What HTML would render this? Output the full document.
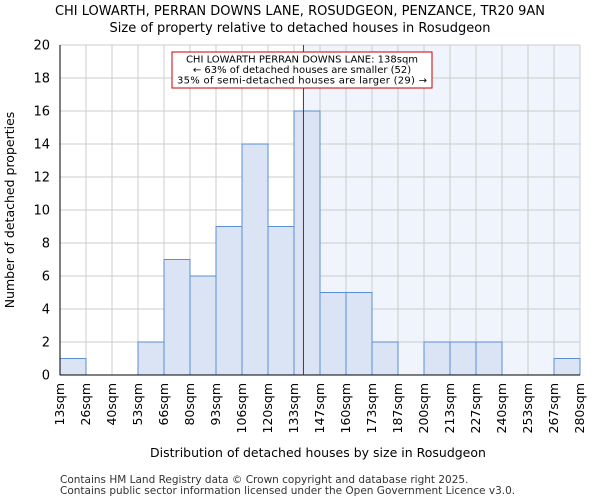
<!DOCTYPE html>
<html><head><style>
body{margin:0;background:#fff;font-family:"DejaVu Sans","Liberation Sans",sans-serif;}
</style></head><body>
<svg id="chart" width="600" height="500" xmlns="http://www.w3.org/2000/svg" font-family="DejaVu Sans, Liberation Sans, sans-serif">
<text x="300" y="15" text-anchor="middle" font-size="13">CHI LOWARTH, PERRAN DOWNS LANE, ROSUDGEON, PENZANCE, TR20 9AN</text>
<text x="300" y="32" text-anchor="middle" font-size="13">Size of property relative to detached houses in Rosudgeon</text>
<g id="plot"></g>
<text x="318" y="457" text-anchor="middle" font-size="12.5">Distribution of detached houses by size in Rosudgeon</text>
<text transform="translate(14,210) rotate(-90)" text-anchor="middle" font-size="12.5">Number of detached properties</text>
<text x="60" y="483" font-size="10.5" fill="#333">Contains HM Land Registry data © Crown copyright and database right 2025.</text>
<text x="60" y="494" font-size="10.5" fill="#333">Contains public sector information licensed under the Open Government Licence v3.0.</text>
</svg>
<script>
const binLabels=["13sqm","26sqm","40sqm","53sqm","66sqm","80sqm","93sqm","106sqm","120sqm","133sqm","147sqm","160sqm","173sqm","187sqm","200sqm","213sqm","227sqm","240sqm","253sqm","267sqm","280sqm"];
const counts=[1,0,0,2,7,6,9,14,9,16,5,5,2,0,2,2,2,0,0,1];
const yTicks=[0,2,4,6,8,10,12,14,16,18,20];
const xMin=13,xMax=280,yMax=20,propertySize=138;
const L=60,R=580,T=45,B=375;
const n=counts.length,bw=(R-L)/n;
const xb=i=>L+i*bw;
const xv=v=>L+(v-xMin)/(xMax-xMin)*(R-L);
const y=v=>B-v/yMax*(B-T);
const NS="http://www.w3.org/2000/svg";
const g=document.getElementById('plot');
function mk(t,a){const e=document.createElementNS(NS,t);for(const k in a)e.setAttribute(k,a[k]);g.appendChild(e);return e;}
const px=xv(propertySize);
let e=mk('rect',{x:px,y:T,width:R-px,height:B-T,fill:'#f0f4fc'});


for(const t of yTicks){e=mk('line',{x1:L,x2:R,y1:y(t),y2:y(t),stroke:'#cccccc','stroke-width':1});

}
for(let i=0;i<=n;i++){e=mk('line',{x1:xb(i),x2:xb(i),y1:T,y2:B,stroke:'#cccccc','stroke-width':1});

}
counts.forEach((c,i)=>{if(c<=0)return;e=mk('rect',{x:xb(i),y:y(c),width:bw,height:B-y(c),fill:'#dae4f4',stroke:'#5b8fd4','stroke-width':1});

});
e=mk('line',{x1:L,x2:L,y1:T,y2:B,stroke:'#000'});


e=mk('line',{x1:L,x2:R,y1:B,y2:B,stroke:'#000'});


for(const t of yTicks){e=mk('text',{x:L-10,y:y(t)+4.5,'text-anchor':'end','font-size':13});e.textContent=t;

}
binLabels.forEach((l,i)=>{const xx=xb(i);e=mk('text',{transform:`translate(${xx+4},${B+8}) rotate(-90)`,'text-anchor':'end','font-size':12.5});e.textContent=l;

});
e=mk('line',{x1:px,x2:px,y1:T,y2:B,stroke:'#cc0000','stroke-width':1});


e=mk('rect',{x:172,y:52,width:260,height:36,fill:'#fff',stroke:'#cc0000','stroke-width':1});


const ann=["CHI LOWARTH PERRAN DOWNS LANE: 138sqm","← 63% of detached houses are smaller (52)","35% of semi-detached houses are larger (29) →"];
ann.forEach((s,i)=>{e=mk('text',{x:302,y:62.5+i*10.5,'text-anchor':'middle','font-size':10,textLength:i==2?250:null});e.textContent=s;
if(i!=2)e.removeAttribute('textLength');

});
</script>
</body></html>
